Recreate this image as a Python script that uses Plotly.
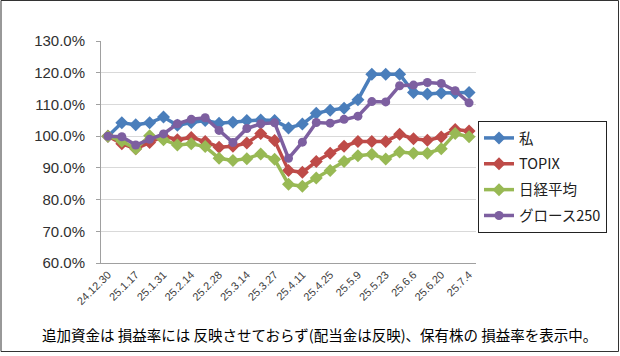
import plotly.graph_objects as go

dates = ["24.12.30", "25.1.10", "25.1.17", "25.1.24", "25.1.31", "25.2.7", "25.2.14",
         "25.2.21", "25.2.28", "25.3.7", "25.3.14", "25.3.21", "25.3.27", "25.4.4",
         "25.4.11", "25.4.18", "25.4.25", "25.5.2", "25.5.9", "25.5.16", "25.5.23",
         "25.5.30", "25.6.6", "25.6.13", "25.6.20", "25.6.27", "25.7.4"]
tick_labels = ["24.12.30", "25.1.17", "25.1.31", "25.2.14", "25.2.28", "25.3.14", "25.3.27",
               "25.4.11", "25.4.25", "25.5.9", "25.5.23", "25.6.6", "25.6.20", "25.7.4"]

me = [100, 104.2, 103.6, 104.2, 106.0, 103.4, 104.3, 104.9, 104.1, 104.4, 104.9, 105.1, 104.9,
      102.6, 103.8, 107.2, 108.2, 108.8, 111.5, 119.5, 119.5, 119.5, 113.8, 113.3, 113.6, 113.6, 113.8]
topix = [100, 97.6, 96.0, 98.0, 100.0, 98.9, 99.6, 98.3, 96.5, 96.8, 97.8, 100.8, 98.6,
         89.2, 88.6, 92.0, 94.6, 96.8, 98.3, 98.3, 98.3, 100.6, 99.2, 98.7, 99.7, 102.1, 101.6]
nikkei = [100, 98.4, 96.0, 100.1, 98.9, 97.2, 97.6, 96.7, 93.0, 92.3, 92.9, 94.4, 92.7,
          84.8, 84.2, 86.8, 89.2, 92.0, 93.8, 94.3, 92.8, 95.0, 94.6, 94.6, 96.0, 100.8, 99.8]
growth = [100, 99.8, 97.2, 99.0, 100.7, 103.9, 105.3, 105.8, 101.8, 98.0, 102.4, 103.9, 104.2,
          93.0, 98.1, 104.3, 104.1, 105.3, 106.3, 110.9, 110.8, 115.9, 116.1, 116.9, 116.6, 114.3, 110.5]

series = [
    ("私", me, "#4A7EBB", "diamond", 10),
    ("TOPIX", topix, "#BE4B48", "diamond", 10),
    ("日経平均", nikkei, "#98B954", "diamond", 10),
    ("グロース250", growth, "#7D5FA0", "circle", 9),
]

fig = go.Figure()
for i, (name, vals, color, sym, ms) in enumerate(series):
    fig.add_trace(go.Scatter(
        x=dates, y=[v / 100 for v in vals], name=name, mode="lines+markers",
        line=dict(color=color, width=3.5),
        marker=dict(symbol=sym, size=ms, color=color),
        legendgroup=f"g{i}",
    ))

L, R, T, B = 101, 144, 41, 93
W, H = 620, 356
pw, ph = W - L - R, H - T - B

def px(x):
    return (x - L) / pw

def py(y):
    return (H - B - y) / ph

fig.update_layout(
    width=W, height=H,
    margin=dict(l=L, r=R, t=T, b=B, pad=0, autoexpand=False),
    paper_bgcolor="white", plot_bgcolor="white",
    font=dict(family="Liberation Sans, Arial, sans-serif", color="#404040"),
    showlegend=True,
    legend=dict(
        x=px(478), y=py(121), xanchor="left", yanchor="top",
        bordercolor="#222222", borderwidth=1, bgcolor="white",
        font=dict(family="Noto Sans CJK JP", size=14.5, color="#202020"),
        tracegroupgap=4, traceorder="grouped", itemwidth=30,
        entrywidth=96, entrywidthmode="pixels",
    ),
    xaxis=dict(
        type="category", categoryorder="array", categoryarray=dates,
        range=[-0.5, len(dates) - 0.5],
        tickmode="array", tickvals=tick_labels, ticktext=tick_labels,
        tickangle=-45, tickfont=dict(size=11, color="#404040"),
        showgrid=False, showline=True, linecolor="#A0A0A0", linewidth=1,
        ticks="", zeroline=False,
    ),
    yaxis=dict(
        range=[0.6, 1.3], dtick=0.1, tick0=0.6, tickformat=".1%",
        tickfont=dict(size=15, color="#303030"),
        showgrid=True, gridcolor="#D9D9D9", gridwidth=1,
        showline=True, linecolor="#A0A0A0", linewidth=1,
        ticks="outside", ticklen=4, tickcolor="#A0A0A0",
        ticklabelstandoff=8,
        zeroline=False,
    ),
    shapes=[dict(type="rect", xref="paper", yref="paper",
                 x0=px(1), x1=px(618.5), y0=py(351.5), y1=py(0.5),
                 line=dict(color="#333333", width=1), fillcolor="rgba(0,0,0,0)")],
    annotations=[dict(
        text="追加資金は 損益率には 反映させておらず(配当金は反映)、保有株の 損益率を表示中。",
        xref="paper", yref="paper", x=px(319), y=py(334),
        xanchor="center", yanchor="middle", showarrow=False,
        font=dict(family="Noto Sans CJK JP", size=14.5, color="#000000"),
    )],
)

fig.write_html("out.html", config={"displayModeBar": False},
               post_script="document.body.style.margin='0';")
